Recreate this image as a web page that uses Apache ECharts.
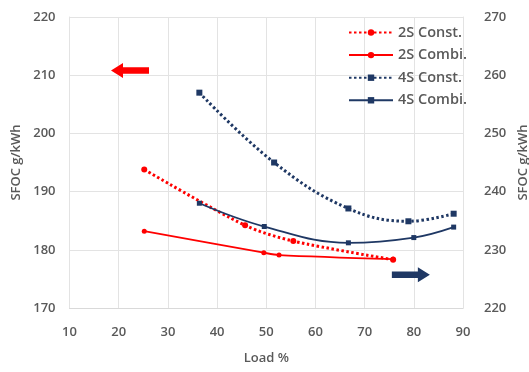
<!DOCTYPE html>
<html><head><meta charset="utf-8">
<script src="https://cdn.jsdelivr.net/npm/echarts@6/dist/echarts.min.js"></script>
<style>html,body{margin:0;padding:0;background:#fff}#c{width:529px;height:372px}</style>
</head><body><div id="c"></div>
<script>
const xTicks = [10, 20, 30, 40, 50, 60, 70, 80, 90];
const leftTicks = [170, 180, 190, 200, 210, 220];
const rightTicks = [220, 230, 240, 250, 260, 270];
const s2ConstLoad = [25.2, 45.7, 55.5, 75.8];
const s2ConstSfoc = [193.8, 184.2, 181.5, 178.3];
const s2CombiLoad = [25.2, 49.5, 52.6, 75.8];
const s2CombiSfoc = [183.2, 179.5, 179.1, 178.4];
const s4ConstLoad = [36.4, 51.6, 66.7, 78.9, 88.1];
const s4ConstSfoc = [257.0, 245.0, 237.1, 234.9, 236.2];
const s4CombiLoad = [36.4, 49.6, 66.7, 80.0, 88.1];
const s4CombiSfoc = [238.0, 234.0, 231.2, 232.1, 233.9];
const names = ['2S Const.', '2S Combi.', '4S Const.', '4S Combi.'];

const RED = '#ff0000', NAVY = '#1f3864';
const FONT = 'Open Sans';
const txt = {color: '#595959', fontFamily: FONT, fontSize: 13, fontWeight: 600};
const pair = (xs, ys) => xs.map((x, i) => [x, ys[i]]);

const chart = echarts.init(document.getElementById('c'));
chart.setOption({
  animation: false,
  backgroundColor: '#fff',
  grid: {left: 69.5, right: 66, top: 17, bottom: 64, containLabel: false, outerBoundsMode: 'none'},
  legend: {
    data: names, orient: 'vertical', left: 348, top: 25, itemGap: 7.6,
    itemWidth: 44, itemHeight: 8,
    textStyle: {color: '#595959', fontFamily: FONT, fontSize: 14.5, fontWeight: 600},
    padding: 0
  },
  xAxis: {
    type: 'value', min: 10, max: 90, interval: 10,
    name: 'Load %', nameLocation: 'middle', nameGap: 44,
    nameTextStyle: {color: '#595959', fontFamily: FONT, fontSize: 13, fontWeight: 600},
    axisLine: {show: true, lineStyle: {color: '#d9d9d9'}},
    axisTick: {show: false},
    axisLabel: Object.assign({margin: 18}, txt),
    splitLine: {show: true, lineStyle: {color: '#e3e3e3'}}
  },
  yAxis: [{
    type: 'value', min: 170, max: 220, interval: 10, position: 'left',
    name: 'SFOC g/kWh', nameLocation: 'middle', nameGap: 45, nameRotate: 90,
    nameTextStyle: {color: '#595959', fontFamily: FONT, fontSize: 13, fontWeight: 600},
    axisLine: {show: true, lineStyle: {color: '#e3e3e3'}}, axisTick: {show: false},
    axisLabel: Object.assign({margin: 14}, txt),
    splitLine: {show: true, lineStyle: {color: '#e3e3e3'}}
  }, {
    type: 'value', min: 220, max: 270, interval: 10, position: 'right',
    name: 'SFOC g/kWh', nameLocation: 'middle', nameGap: 52, nameRotate: 90,
    nameTextStyle: {color: '#595959', fontFamily: FONT, fontSize: 13, fontWeight: 600},
    axisLine: {show: true, lineStyle: {color: '#e3e3e3'}}, axisTick: {show: false},
    axisLabel: Object.assign({margin: 21}, txt),
    splitLine: {show: false}
  }],
  series: [{
    name: names[0], type: 'line', yAxisIndex: 0, smooth: 0.3,
    data: pair(s2ConstLoad, s2ConstSfoc),
    symbol: 'circle', symbolSize: 6,
    itemStyle: {color: RED}, lineStyle: {color: RED, width: 3, type: [2.5, 2.5]},
    markPoint: {
      symbol: 'path://M0,7 L12,0 L12,4 L38,4 L38,10 L12,10 L12,14 Z',
      symbolSize: [38, 15], silent: true, label: {show: false},
      itemStyle: {color: RED},
      data: [{coord: [22.3, 210.8]}]
    }
  }, {
    name: names[1], type: 'line', yAxisIndex: 0, smooth: 0.3,
    data: pair(s2CombiLoad, s2CombiSfoc),
    symbol: 'circle', symbolSize: 5,
    itemStyle: {color: RED}, lineStyle: {color: RED, width: 1.8}
  }, {
    name: names[2], type: 'line', yAxisIndex: 1, smooth: 0.4,
    data: pair(s4ConstLoad, s4ConstSfoc),
    symbol: 'rect', symbolSize: 6,
    itemStyle: {color: NAVY}, lineStyle: {color: NAVY, width: 3, type: [2.5, 2.5]},
    markPoint: {
      symbol: 'path://M38,7 L26,0 L26,4 L0,4 L0,10 L26,10 L26,14 Z',
      symbolSize: [38, 15], silent: true, label: {show: false},
      itemStyle: {color: NAVY},
      data: [{coord: [79.4, 225.7]}]
    }
  }, {
    name: names[3], type: 'line', yAxisIndex: 1, smooth: 0.4,
    data: pair(s4CombiLoad, s4CombiSfoc),
    symbol: 'rect', symbolSize: 5,
    itemStyle: {color: NAVY}, lineStyle: {color: NAVY, width: 1.8}
  }]
});
</script></body></html>
